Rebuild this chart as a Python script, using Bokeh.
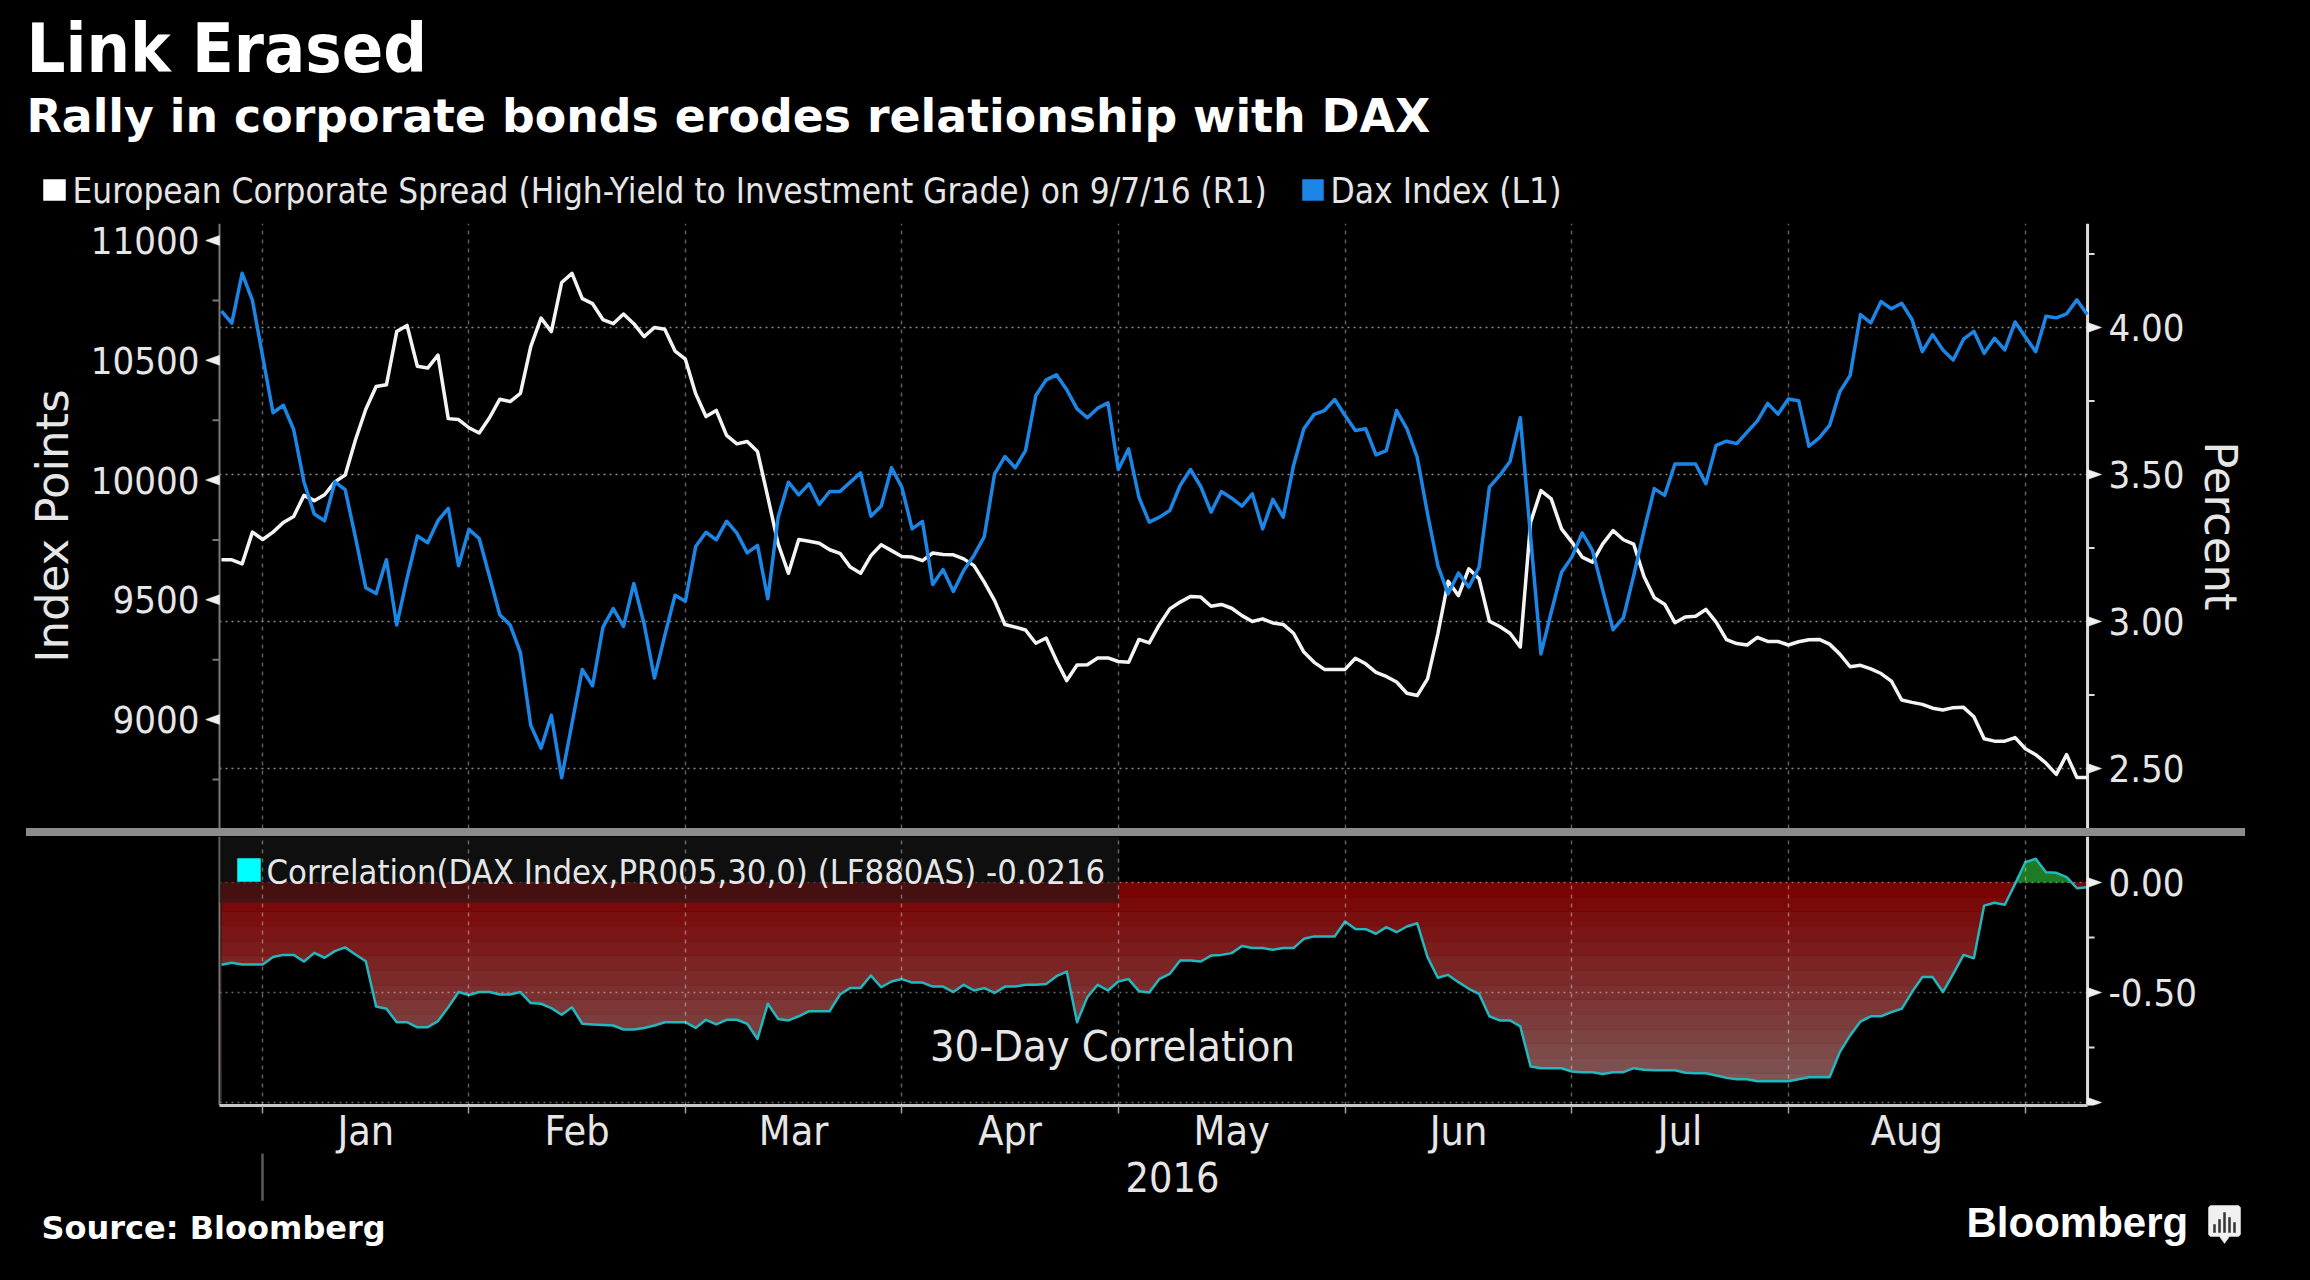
import numpy as np
from bokeh.plotting import figure
from bokeh.embed import file_html
from bokeh.resources import INLINE
from bokeh.models import (Range1d, LinearAxis, FixedTicker, Grid, Label, PolyAnnotation, BoxAnnotation, Div)

title_text = "Link Erased"
subtitle_text = "Rally in corporate bonds erodes relationship with DAX"
legend_spread = "European Corporate Spread (High-Yield to Investment Grade) on 9/7/16 (R1)"
legend_dax = "Dax Index (L1)"
legend_corr = "Correlation(DAX Index,PR005,30,0) (LF880AS) -0.0216"
months = ["Jan", "Feb", "Mar", "Apr", "May", "Jun", "Jul", "Aug"]
month_starts = [4, 24, 45, 66, 87, 109, 131, 152, 175]

dax_index = [
    10705,10655,10863,10750,10514,10281,10312,10211,9992,9858,9830,9992,9960,9759,9550,9526,9667,9395,9590,9766,
    9738,9830,9882,9642,9794,9756,9597,9437,9395,9279,8976,8880,9018,8757,8983,9209,9141,9385,9463,9389,
    9568,9399,9173,9350,9519,9494,9722,9782,9750,9828,9778,9696,9727,9504,9845,9991,9938,9984,9898,9952,
    9952,9991,10030,9849,9891,10051,9970,9796,9827,9564,9626,9535,9622,9685,9764,10026,10098,10051,10123,10353,
    10418,10439,10377,10297,10260,10300,10322,10044,10130,9928,9824,9845,9873,9977,10044,9973,9866,9952,9924,9891,
    9942,9796,9919,9845,10061,10214,10274,10290,10336,10269,10207,10214,10105,10123,10290,10214,10095,9859,9643,9525,
    9612,9553,9636,9970,10019,10077,10260,9761,9274,9448,9615,9678,9779,9706,9539,9375,9425,9601,9789,9964,
    9936,10067,10067,10067,9985,10145,10162,10152,10200,10247,10320,10275,10338,10331,10141,10176,10228,10369,10437,10691,
    10656,10745,10715,10738,10670,10536,10607,10543,10501,10588,10621,10529,10592,10543,10660,10597,10536,10684,10677,10694,
    10752,10691]

spread_pct = [
    3.210,3.210,3.196,3.304,3.279,3.304,3.337,3.357,3.429,3.411,3.431,3.475,3.498,3.618,3.722,3.799,3.805,3.986,4.007,3.868,
    3.862,3.906,3.690,3.687,3.659,3.641,3.693,3.756,3.748,3.776,3.935,4.032,3.986,4.153,4.184,4.098,4.081,4.027,4.013,4.046,
    4.013,3.969,4.000,3.994,3.920,3.892,3.775,3.697,3.718,3.633,3.604,3.612,3.578,3.423,3.264,3.164,3.279,3.273,3.266,3.244,
    3.232,3.185,3.164,3.224,3.261,3.241,3.221,3.219,3.207,3.233,3.228,3.227,3.213,3.190,3.134,3.071,2.990,2.981,2.971,2.926,
    2.944,2.867,2.799,2.852,2.853,2.876,2.876,2.864,2.861,2.939,2.927,2.990,3.043,3.066,3.085,3.083,3.052,3.058,3.045,3.020,
    3.000,3.009,2.995,2.990,2.960,2.896,2.861,2.837,2.837,2.837,2.875,2.856,2.827,2.813,2.794,2.756,2.748,2.805,2.958,3.137,
    3.088,3.179,3.145,3.001,2.983,2.960,2.913,3.338,3.445,3.417,3.315,3.270,3.219,3.202,3.264,3.309,3.278,3.263,3.153,3.081,
    3.059,2.996,3.015,3.018,3.041,2.998,2.938,2.925,2.920,2.946,2.932,2.932,2.920,2.931,2.938,2.939,2.923,2.889,2.846,2.851,
    2.839,2.823,2.797,2.733,2.725,2.718,2.705,2.699,2.707,2.708,2.676,2.601,2.593,2.593,2.605,2.567,2.547,2.518,2.480,2.547,
    2.469,2.469]

correlation = [
    -0.374,-0.365,-0.373,-0.373,-0.373,-0.339,-0.329,-0.329,-0.359,-0.320,-0.342,-0.312,-0.295,-0.327,-0.358,-0.564,-0.574,-0.635,-0.635,-0.658,
    -0.658,-0.630,-0.567,-0.498,-0.511,-0.498,-0.498,-0.509,-0.509,-0.498,-0.548,-0.551,-0.571,-0.601,-0.567,-0.642,-0.645,-0.648,-0.650,-0.668,
    -0.668,-0.661,-0.650,-0.635,-0.635,-0.635,-0.661,-0.624,-0.645,-0.624,-0.624,-0.642,-0.711,-0.551,-0.620,-0.627,-0.608,-0.585,-0.585,-0.585,
    -0.509,-0.479,-0.479,-0.423,-0.476,-0.450,-0.439,-0.455,-0.455,-0.473,-0.473,-0.498,-0.465,-0.491,-0.480,-0.502,-0.473,-0.473,-0.465,-0.465,
    -0.461,-0.426,-0.405,-0.635,-0.521,-0.465,-0.491,-0.450,-0.439,-0.494,-0.500,-0.438,-0.415,-0.355,-0.355,-0.359,-0.332,-0.329,-0.321,-0.289,
    -0.298,-0.298,-0.306,-0.298,-0.298,-0.256,-0.245,-0.245,-0.245,-0.177,-0.211,-0.212,-0.233,-0.203,-0.226,-0.200,-0.185,-0.339,-0.433,-0.420,
    -0.453,-0.483,-0.506,-0.608,-0.627,-0.627,-0.654,-0.836,-0.844,-0.844,-0.844,-0.859,-0.862,-0.862,-0.870,-0.862,-0.862,-0.844,-0.851,-0.853,
    -0.853,-0.853,-0.865,-0.867,-0.867,-0.877,-0.888,-0.894,-0.894,-0.903,-0.903,-0.903,-0.903,-0.894,-0.885,-0.885,-0.885,-0.771,-0.695,-0.632,
    -0.608,-0.608,-0.589,-0.574,-0.498,-0.430,-0.430,-0.498,-0.415,-0.329,-0.344,-0.105,-0.092,-0.101,-0.006,0.092,0.108,0.047,0.044,0.024,
    -0.026,-0.0216]

N = min(len(dax_index), len(spread_pct), len(correlation))
trading_day = np.arange(N)
dax_index, spread_pct, correlation = dax_index[:N], spread_pct[:N], correlation[:N]

WHITE = "#f4f4f4"
BLUE = "#1c86e6"
TEAL = "#22b8c0"
TXT = "#e6e6e6"
COND = "DejaVu Sans Condensed"
PX = 1 / 10.308            # one page pixel, in trading days
XMIN, XMAX = -0.194, 181.03   # where the plot's own axis lines stand
X0, X1 = -1.552, 182.48       # the frame: room for the tick arrows inside it
xr = Range1d(X0, X1)

def blank(height, **kw):
    f = figure(width=2294, height=height, x_range=Range1d(0, 1), y_range=Range1d(0, 1),
               output_backend="svg", toolbar_location=None, x_axis_location=None, y_axis_location=None,
               background_fill_color="black", border_fill_color="black", outline_line_color=None,
               min_border_left=0, min_border_right=0, min_border_top=0, min_border_bottom=0, **kw)
    f.center = []
    return f

def canvas_label(p, x, y, text, size, y0, font=COND, style="normal", align="left", color=TXT):
    p.add_layout(Label(x=x - 8, y=y - y0, x_units="canvas", y_units="canvas", text=text, level="overlay",
                       text_font=font, text_font_size=size, text_font_style=style,
                       text_color=color, text_align=align, text_baseline="middle"))

def canvas_poly(p, xs, ys, color, y0):
    p.add_layout(PolyAnnotation(xs=[x - 8 for x in xs], ys=[y - y0 for y in ys], xs_units="canvas", ys_units="canvas",
                                fill_color=color, fill_alpha=1, line_color=color, line_alpha=1, line_width=0.5, level="overlay"))

# ---------- header ----------
head = blank(205)
canvas_label(head, 26, 48, title_text, "68px", 8, COND, "bold", color="#ffffff")
canvas_label(head, 26, 115, subtitle_text, "45.8px", 8, "DejaVu Sans", "bold", color="#ffffff")
canvas_poly(head, [43, 65, 65, 43], [179, 179, 200, 200], "#ffffff", 8)
canvas_label(head, 72, 190, legend_spread, "34.85px", 8)
canvas_poly(head, [1302, 1323, 1323, 1302], [179, 179, 200, 200], BLUE, 8)
canvas_label(head, 1330, 190, legend_dax, "35px", 8)

# ---------- upper panel ----------
YL0, YL1 = 8545, 11071
YR0, YR1 = 2.2959, 4.3537
p1 = figure(width=2294, height=615, x_range=xr, y_range=Range1d(YL0, YL1),
            output_backend="svg", toolbar_location=None, x_axis_location=None, y_axis_location=None,
            background_fill_color="black", border_fill_color="black", outline_line_color=None,
            min_border_left=197, min_border_right=200, min_border_top=10, min_border_bottom=0)
p1.center = []
p1.extra_y_ranges = {"right": Range1d(YR0, YR1)}

left_ticks = [9000, 9500, 10000, 10500, 11000]
left_minor = [8750, 9250, 9750, 10250, 10750]
right_ticks = [2.5, 3.0, 3.5, 4.0]
right_minor = [2.75, 3.25, 3.75, 4.25]

def style_axis(ax):
    ax.axis_line_color = None
    ax.major_tick_line_color = None
    ax.major_tick_out = 0
    ax.major_tick_in = 0
    ax.minor_tick_line_color = None
    ax.major_label_text_color = TXT
    ax.major_label_text_font = COND
    ax.major_label_text_font_size = "38px"
    ax.axis_label_text_color = TXT
    ax.axis_label_text_font = "DejaVu Sans"
    ax.axis_label_text_font_style = "normal"
    ax.axis_label_text_font_size = "45px"

la = LinearAxis(ticker=FixedTicker(ticks=left_ticks), axis_label="Index Points")
style_axis(la)
la.major_label_standoff = 6
la.axis_label_standoff = 9
p1.add_layout(la, "left")

ra = LinearAxis(y_range_name="right", ticker=FixedTicker(ticks=right_ticks),
                axis_label="Percent", major_label_overrides={v: f"{v:.2f}" for v in right_ticks})
style_axis(ra)
ra.major_label_standoff = 6
ra.axis_label_standoff = 6
p1.add_layout(ra, "right")

def vgrid(level):
    return Grid(dimension=0, ticker=FixedTicker(ticks=month_starts), level=level,
                grid_line_color="#ffffff", grid_line_alpha=0.36, grid_line_width=1.5, grid_line_dash="4 5")

def rule(p, x_edge, direction, y0, y1, minor, color, width, rng="default"):
    p.segment(x0=x_edge, x1=x_edge, y0=y0, y1=y1, y_range_name=rng, line_color=color, line_width=width)
    p.segment(x0=x_edge, x1=x_edge + direction * 7 * PX, y0=minor, y1=minor, y_range_name=rng, line_color=color, line_width=2)

def tri(p, x_edge, direction, ticks, half, rng="default", color="#f0f0f0"):
    xs = [[x_edge, x_edge + direction * 14 * PX, x_edge] for _ in ticks]
    ys = [[y + half, y, y - half] for y in ticks]
    p.patches(xs, ys, y_range_name=rng, fill_color=color, line_color=color, line_width=0.5)

p1.add_layout(vgrid("underlay"))
p1.segment(x0=XMIN, x1=XMAX, y0=right_ticks, y1=right_ticks, y_range_name="right", level="underlay",
           line_color="#8a8a8a", line_width=1.5, line_dash="2 4")
rule(p1, XMIN, -1, YL0, YL1, left_minor, "#787878", 2)
rule(p1, XMAX, 1, YR0, YR1, right_minor, "#dcdcdc", 3, "right")

p1.line(trading_day, spread_pct, y_range_name="right", line_color=WHITE, line_width=3.5, line_join="round")
p1.line(trading_day, dax_index, line_color=BLUE, line_width=3.5, line_join="round")

tri(p1, XMIN, -1, left_ticks, 5 * 4.175)
tri(p1, XMAX, 1, right_ticks, 5 / 294.0, "right")

# ---------- separator ----------
bar = Div(text="", width=2219, height=8, margin=(0, 0, 0, 18), styles={"background-color": "#8c8c8c"})

# ---------- lower panel ----------
YC0, YC1 = -1.0136, 0.2091
p2 = figure(width=2294, height=329, x_range=xr, y_range=Range1d(YC0, YC1),
            output_backend="svg", toolbar_location=None, x_axis_location=None, y_axis_location=None,
            background_fill_color="black", border_fill_color="black", outline_line_color=None,
            min_border_left=197, min_border_right=200, min_border_top=0, min_border_bottom=60)
p2.center = []

corr_ticks = [0.0, -0.5]
corr_minor = [-0.25, -0.75]

ra2 = LinearAxis(ticker=FixedTicker(ticks=corr_ticks), major_label_overrides={v: f"{v:.2f}" for v in corr_ticks})
style_axis(ra2)
ra2.major_label_standoff = 6
p2.add_layout(ra2, "right")

mid_ticks = [(a + b) / 2 for a, b in zip(month_starts[:-1], month_starts[1:])]
ba = LinearAxis(ticker=FixedTicker(ticks=mid_ticks, minor_ticks=month_starts), bounds=(XMIN, XMAX),
                major_label_overrides=dict(zip(mid_ticks, months)))
ba.axis_line_color = "#c8c8c8"
ba.axis_line_width = 3
ba.major_tick_line_color = None
ba.major_tick_out = 0
ba.major_tick_in = 0
ba.minor_tick_line_color = "#a0a0a0"
ba.minor_tick_line_width = 1.5
ba.minor_tick_out = 8
ba.minor_tick_in = 0
ba.major_label_standoff = -7
ba.major_label_text_color = TXT
ba.major_label_text_font = COND
ba.major_label_text_font_size = "41px"
p2.add_layout(ba, "below")

# gradient bands, then mask under the series
n_bands = 15
edges = np.linspace(0, -1.0, n_bands + 1)
band_cols = []
for k in range(n_bands):
    t = min((k + 0.5) / 13.5, 1)
    band_cols.append("#%02x%02x%02x" % (int(122 + 5 * t), int(86 * t), int(86 * t)))
p2.quad(left=0, right=N - 1, top=edges[:-1], bottom=edges[1:], fill_color=band_cols, line_color=band_cols, line_width=0.5)
p2.varea(x=trading_day, y1=correlation, y2=YC0, fill_color="black")
fine_x = np.linspace(0, N - 1, (N - 1) * 20 + 1)
fine_y = np.interp(fine_x, trading_day, correlation)
p2.varea(x=fine_x, y1=0, y2=np.maximum(fine_y, 0), fill_color="#1f7a24")
grid_levels = [0.0, -0.5, -1.0]
p2.add_layout(vgrid("overlay"))
p2.segment(x0=XMIN, x1=XMAX, y0=grid_levels, y1=grid_levels, line_color="#ffffff", line_alpha=0.4, line_width=1.5, line_dash="2 4")
p2.line(trading_day, correlation, line_color=TEAL, line_width=2.5, line_join="round")
p2.add_layout(BoxAnnotation(left=XMIN, right=87.1, top=YC1, bottom=-0.091, fill_color="#1b1b1b", fill_alpha=0.55, line_color=None))
p2.segment(x0=XMIN, x1=XMIN, y0=YC0, y1=YC1, line_color="#787878", line_width=2)
rule(p2, XMAX, 1, YC0, YC1, corr_minor, "#dcdcdc", 3)
tri(p2, XMAX, 1, grid_levels, 5 / 220.0)

canvas_poly(p2, [237, 260, 260, 237], [858, 858, 881, 881], "#00ffff", 836)
canvas_label(p2, 266, 871, legend_corr, "34.3px", 836)
canvas_label(p2, 1112, 1045.5, "30-Day Correlation", "43px", 836, align="center")

# ---------- footer ----------
Y0 = 1153
foot = blank(119, margin=(-12, 0, 0, 0))
canvas_label(foot, 1172, 1176, "2016", "41px", Y0, align="center")
canvas_poly(foot, [261, 263, 263, 261], [1153, 1153, 1200, 1200], "#5a5a5a", Y0)
canvas_label(foot, 41, 1227, "Source: Bloomberg", "32px", Y0, "DejaVu Sans", "bold", color="#ffffff")
canvas_label(foot, 1966, 1222, "Bloomberg", "42px", Y0, "Liberation Sans", "bold", color="#ffffff")
canvas_poly(foot, [2210, 2238, 2240, 2240, 2238, 2229, 2224, 2219, 2210, 2208, 2208],
            [1205, 1205, 1207, 1234, 1236, 1236, 1243, 1236, 1236, 1234, 1207], "#f0f0f0", Y0)
for bx, top in zip([2213, 2218, 2223, 2228, 2233], [1224, 1219, 1212, 1217, 1222]):
    canvas_poly(foot, [bx, bx + 2, bx + 2, bx], [top, top, 1232, 1232], "#333333", Y0)

html = file_html([head, p1, bar, p2, foot], INLINE)
css = "<style>html,body{background:#000}body{margin:8px !important;overflow:hidden}</style></head>"
html = html.replace("</head>", css, 1)
open("out.html", "w").write(html)
